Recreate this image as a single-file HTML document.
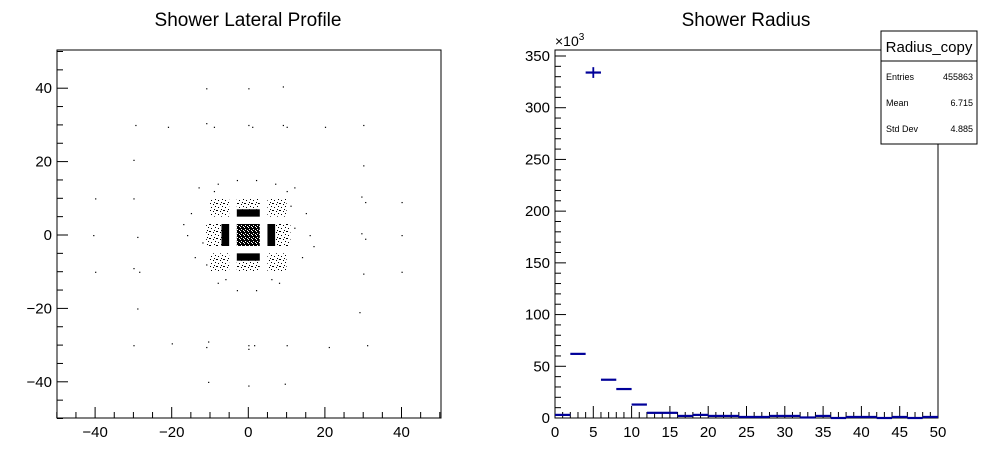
<!DOCTYPE html>
<html><head><meta charset="utf-8"><style>
body{margin:0;background:#fff;width:998px;height:471px;overflow:hidden;font-family:"Liberation Sans",Arial,sans-serif}
svg text{font-family:"Liberation Sans",Arial,sans-serif}
</style></head><body>
<svg id="c" width="998" height="471" viewBox="0 0 998 471">
<defs>
<pattern id="spk" width="7" height="7" patternUnits="userSpaceOnUse">
<rect x="0" y="0" width="1" height="1" fill="#000"/><rect x="3" y="1" width="1" height="1" fill="#000"/>
<rect x="5" y="3" width="1" height="1" fill="#000"/><rect x="1" y="4" width="1" height="1" fill="#000"/>
<rect x="4" y="6" width="1" height="1" fill="#000"/><rect x="6" y="0" width="1" height="1" fill="#000"/>
</pattern>
<pattern id="dense" width="4" height="4" patternUnits="userSpaceOnUse">
<rect width="4" height="4" fill="#000"/><rect x="1" y="1" width="1" height="1" fill="#fff"/><rect x="3" y="2" width="1" height="1" fill="#fff"/><rect x="0" y="3" width="1" height="1" fill="#fff"/>
</pattern>
</defs>
<rect width="998" height="471" fill="#fff"/>
<text x="248" y="26" font-size="19" text-anchor="middle">Shower Lateral Profile</text>
<text x="746" y="26" font-size="19" text-anchor="middle">Shower Radius</text>
<g id="left"></g>
<g id="right"></g>
<g>
<rect x="881" y="31" width="96" height="113" fill="#fff" stroke="#000" stroke-width="1"/>
<line x1="881" y1="61" x2="977" y2="61" stroke="#000"/>
<text x="929" y="52" font-size="15" text-anchor="middle">Radius_copy</text>
<text x="886" y="80" font-size="9">Entries</text><text x="973" y="80" font-size="9" text-anchor="end">455863</text>
<text x="886" y="106" font-size="9">Mean</text><text x="973" y="106" font-size="9" text-anchor="end">6.715</text>
<text x="886" y="132" font-size="9">Std Dev</text><text x="973" y="132" font-size="9" text-anchor="end">4.885</text>
</g>
</svg>
<script>
// Left scatter data
const outerX = [-11,0,9,-29.5,-21,-11,-9,0,1,9,10,20,30,-30,30,-40,-30,29.5,30.5,40,-40.5,-29,29.5,40,30.5,-40,-30,-28.5,30,40,-29,29,-30,-20,-11,-10.5,0,1.5,0,10,21,31,-10.5,0,9.5,
 -13,-8,-3,2,7,12,-15,15,-16,16,-12,12,-8,8,-3,2,-14,14,-9,10,-17,17,-11,11,-6,6];
const outerY = [40,40,40.5,30,29.5,30.5,29.5,30,29.5,30,29.5,29.5,30,20.5,19,10,10,10.5,9,9,0,-0.5,0.5,0,-1,-10,-9,-10,-10.5,-10,-20,-21,-30,-29.5,-30.5,-29,-30,-30,-31,-30,-30.5,-30,-40,-41,-40.5,
 13,14,15,15,14,13,6,6,0,0,-2,2,-13,-13,-15,-15,-6,-6,12,12,3,-3,-8,8,-12,-12];
// Dense regions: x0,x1,y0,y1,texture (0 solid,1 dense,2 speckle)
const regX0 = [-3,-3,-7,5,-3,  -10,5,-10,5,  -3,-3,-11,7];
const regX1 = [3,3,-5,7,3,     -5,10,-5,10,  3,3,-7,11];
const regY0 = [5,-7,-3,-3,-3,   5,5,-10,-10, 7,-10,-3,-3];
const regY1 = [7,-5,3,3,3,      10,10,-5,-5, 10,-7,3,3];
const regTex = [0,0,0,0,1,      2,2,2,2, 2,2,2,2];
// Histogram data
const binEdges = [0,2,4,6,8,10,12,14,16,18,20,22,24,26,28,30,32,34,36,38,40,42,44,46,48,50];
const binVals = [3,62,334,37,28,13,5,5,2,3,2,2,1,1,2,2,0.5,2,0,1,1,0,1,0,1];
const xTicksR = [0,5,10,15,20,25,30,35,40,45,50];
const yTicksR = [0,50,100,150,200,250,300,350];
const xTicksL = [-40,-20,0,20,40];
const yTicksL = [-40,-20,0,20,40];

const NS="http://www.w3.org/2000/svg";
function mk(p,t,a){const e=document.createElementNS(NS,t);for(const k in a)e.setAttribute(k,a[k]);p.appendChild(e);return e;}
const fills=['#000','url(#dense)','url(#spk)'];

// Left
const L=document.getElementById('left');
const lx=v=>248.3+v*3.83, ly=v=>235-v*3.67;
mk(L,'rect',{x:57,y:50,width:384,height:368,fill:'none',stroke:'#000','stroke-width':1});
for(let v=-50;v<=50;v+=5){const maj=v%20===0;
 let t=mk(L,'line',{x1:lx(v),x2:lx(v),y1:418,y2:418-(maj?11:6),stroke:'#000'});
 
 t=mk(L,'line',{x1:57,x2:57+(maj?11:6),y1:ly(v),y2:ly(v),stroke:'#000'});
 }
xTicksL.forEach(v=>{const t=mk(L,'text',{x:lx(v),y:437,'font-size':15,'text-anchor':'middle'});t.textContent=v<0?'\u2212'+(-v):v;
 });
yTicksL.forEach(v=>{const t=mk(L,'text',{x:52,y:ly(v)+5,'font-size':15,'text-anchor':'end'});t.textContent=v<0?'\u2212'+(-v):v;
 });
regTex.forEach((o,i)=>{const r=mk(L,'rect',{x:lx(regX0[i]),y:ly(regY1[i]),width:lx(regX1[i])-lx(regX0[i]),height:ly(regY0[i])-ly(regY1[i]),fill:fills[o]});
 });
outerX.forEach((x,i)=>{const r=mk(L,'rect',{x:lx(x),y:ly(outerY[i]),width:1.2,height:1.2,fill:'#000'});
 });

// Right
const R=document.getElementById('right');
const rx=v=>555+v*7.66, ry=v=>418-v*1.0343;
mk(R,'rect',{x:555,y:50,width:383,height:368,fill:'none',stroke:'#000','stroke-width':1});
for(let v=0;v<=50;v+=1){const maj=v%5===0;
 const t=mk(R,'line',{x1:rx(v),x2:rx(v),y1:418,y2:418-(maj?12:6),stroke:'#000'});
 }
for(let v=0;v<=350;v+=10){const maj=v%50===0;
 const t=mk(R,'line',{x1:555,x2:555+(maj?11:6),y1:ry(v),y2:ry(v),stroke:'#000'});
 }
xTicksR.forEach(v=>{const t=mk(R,'text',{x:rx(v),y:437,'font-size':15,'text-anchor':'middle'});t.textContent=v;
 });
yTicksR.forEach(v=>{const t=mk(R,'text',{x:550,y:ry(v)+5,'font-size':15,'text-anchor':'end'});t.textContent=v;
 });
{const t=mk(R,'text',{x:555,y:46,'font-size':14});t.innerHTML='\u00d710<tspan dy="-6" font-size="10">3</tspan>';
 }
binVals.forEach((v,i)=>{const y=ry(v);
 const l=mk(R,'line',{x1:rx(binEdges[i]),x2:rx(binEdges[i+1]),y1:y,y2:y,stroke:'#000099','stroke-width':2.2});
 
 const e=Math.sqrt(v*1000)/1000*1.0343*9, m=(rx(binEdges[i])+rx(binEdges[i+1]))/2;
 if(e>3){const b=mk(R,'line',{x1:m,x2:m,y1:y-e,y2:y+e,stroke:'#000099','stroke-width':1.8});
 }
});
</script>
</body></html>
